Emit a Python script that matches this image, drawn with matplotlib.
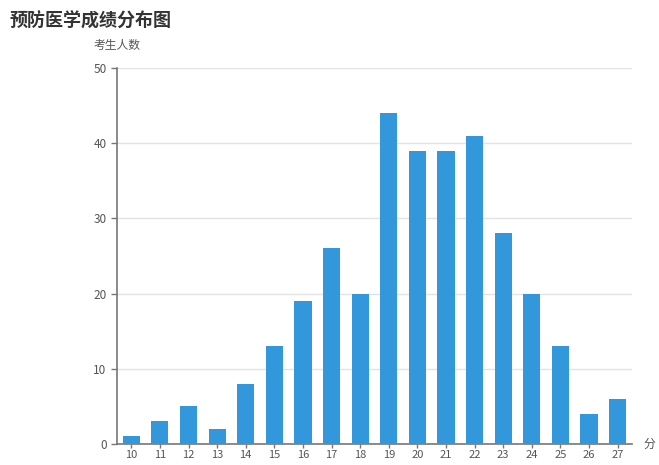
import matplotlib.pyplot as plt
import numpy as np

plt.rcParams['font.family'] = ['Noto Sans CJK SC', 'DejaVu Sans']

# scores and number of students
scores = ['10', '11', '12', '13', '14', '15', '16', '17', '18',
          '19', '20', '21', '22', '23', '24', '25', '26', '27']
counts = [1, 3, 5, 2, 8, 13, 19, 26, 20, 44, 39, 39, 41, 28, 20, 13, 4, 6]
yticks = [0, 10, 20, 30, 40, 50]

axis_col = '#555555'
fig = plt.figure(figsize=(6.59, 4.65), dpi=100)
ax = fig.add_axes([0.1775, 0.0452, 0.7815, 0.8088])

x = np.arange(len(scores))
ax.bar(x, counts, width=0.6, color='#3398DB', zorder=3)

ax.set_xlim(-0.5, len(scores) - 0.5)
ax.set_ylim(0, 50)
ax.set_yticks(yticks)
ax.set_xticks(x)
ax.set_xticklabels(scores)
ax.grid(axis='y', color='#E3E3E3', linewidth=1, zorder=0)

for s in ['top', 'right']:
    ax.spines[s].set_visible(False)
ax.spines['left'].set_color('#777777')
ax.spines['bottom'].set_color('#777777')
ax.spines['left'].set_linewidth(1.2)
ax.spines['bottom'].set_linewidth(1.2)
ax.tick_params(axis='both', colors='#777777', labelcolor=axis_col,
               labelsize=8.5, length=4, width=1)
ax.tick_params(axis='x', length=3, pad=1.5, labelsize=8)

fig.text(0.015, 0.955, '预防医学成绩分布图', fontsize=13, fontweight='bold',
         color='#333333', va='center', ha='left')
fig.text(0.1775, 0.902, '考生人数', fontsize=8.5, color=axis_col, va='center', ha='center')
fig.text(0.985, 0.0452, '分', fontsize=8.5, color=axis_col, va='center', ha='center')

fig.savefig('out.png', dpi=100)
